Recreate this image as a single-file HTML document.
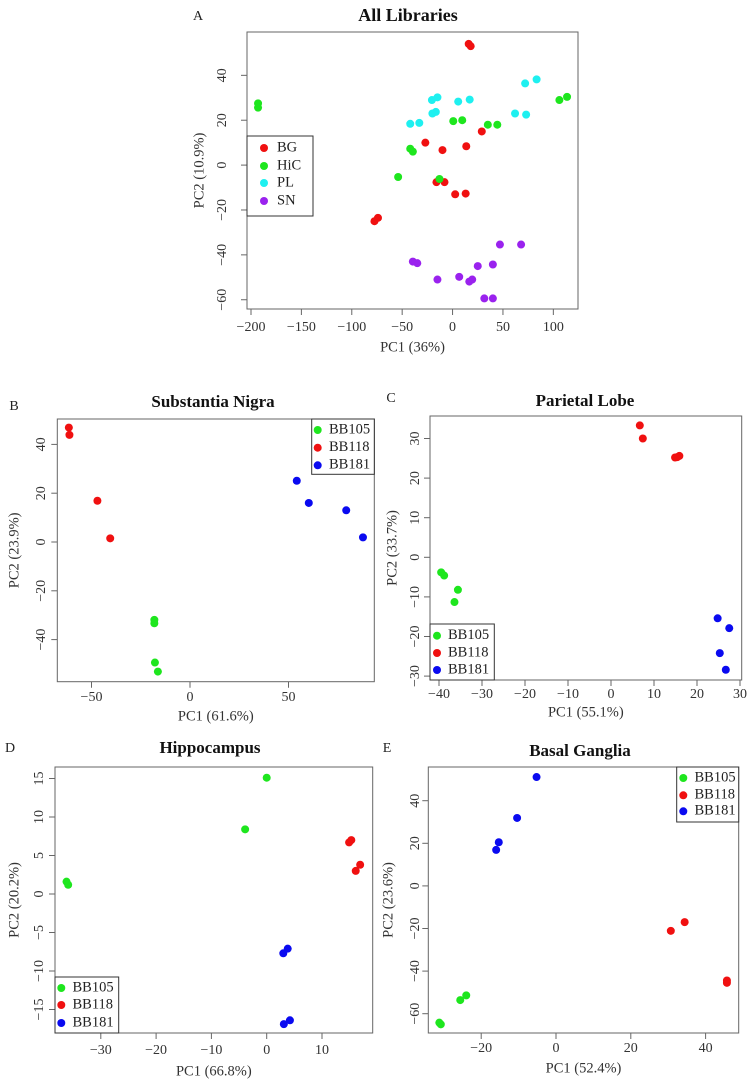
<!DOCTYPE html>
<html><head><meta charset="utf-8">
<style>
html,body{margin:0;padding:0;background:#fff;}
svg{display:block;font-family:"Liberation Serif",serif;}
</style></head>
<body>
<svg id="fig" width="752" height="1082" viewBox="0 0 752 1082" xmlns="http://www.w3.org/2000/svg"></svg>
<script>
// ---- Panel A data ----
const aGroups = ["BG","HiC","PL","SN"];
const aBG_x = [16,18,29,-27,-10,13.6,-16,-8,2.6,13,-77.5,-74];
const aBG_y = [54,53,15,10,6.7,8.4,-7.6,-7.6,-13,-12.7,-25,-23.5];
const aHiC_x = [-193,-193,106,113.6,0.7,9.6,35,44.4,-42,-39.4,-54,-13];
const aHiC_y = [27.5,25.6,29,30.4,19.6,20,18,18,7.3,6,-5.3,-6.2];
const aPL_x = [72,83.4,62,73,-20.5,-15,5.6,17,-20,-16.6,-42,-33];
const aPL_y = [36.4,38.2,23,22.5,29,30.2,28.3,29.2,23,23.7,18.4,18.8];
const aSN_x = [47,68,-39.4,-35,25,40,-15,6.6,16.6,19.5,31.5,40];
const aSN_y = [-35.4,-35.4,-43,-43.7,-45,-44.3,-51,-49.8,-51.9,-51,-59.4,-59.4];
const aXTicks = [-200,-150,-100,-50,0,50,100];
const aYTicks = [-60,-40,-20,0,20,40];
// ---- Sample groups for B-E ----
const sampleGroups = ["BB105","BB118","BB181"];
// ---- Panel B ----
const b105_x = [-18.1,-18.1,-17.8,-16.3], b105_y = [-31.9,-33.3,-49.4,-53.1];
const b118_x = [-61.5,-61.2,-47,-40.5], b118_y = [46.9,43.9,16.9,1.5];
const b181_x = [54.2,60.3,79.3,87.8], b181_y = [25.1,16,13,1.9];
const bXTicks = [-50,0,50];
const bYTicks = [-40,-20,0,20,40];
// ---- Panel C ----
const c105_x = [-39.5,-38.8,-35.6,-36.4], c105_y = [-3.8,-4.6,-8.2,-11.3];
const c118_x = [6.7,7.4,14.9,15.9,15.4], c118_y = [33.3,30,25.2,25.6,25.3];
const c181_x = [24.8,27.5,25.3,26.7], c181_y = [-15.4,-17.9,-24.2,-28.4];
const cXTicks = [-40,-30,-20,-10,0,10,20,30];
const cYTicks = [-30,-20,-10,0,10,20,30];
// ---- Panel D ----
const d105_x = [0,-3.9,-36.2,-35.9], d105_y = [15.1,8.4,1.6,1.2];
const d118_x = [14.9,15.3,16.9,16.1], d118_y = [6.7,7.0,3.8,3.0];
const d181_x = [3.0,3.8,3.1,4.2], d181_y = [-7.7,-7.1,-16.9,-16.4];
const dXTicks = [-30,-20,-10,0,10];
const dYTicks = [-15,-10,-5,0,5,10,15];
// ---- Panel E ----
const e105_x = [-24,-25.6,-31.2,-30.8], e105_y = [-51.4,-53.6,-64.2,-65];
const e118_x = [34.4,30.7,45.7,45.7], e118_y = [-17,-21.1,-44.4,-45.5];
const e181_x = [-5.2,-10.4,-15.3,-16], e181_y = [51.1,31.9,20.5,16.9];
const eXTicks = [-20,0,20,40];
const eYTicks = [-60,-40,-20,0,20,40];

const NS = "http://www.w3.org/2000/svg";
const svg = document.getElementById("fig");
function mk(tag, attrs, parent, text){
  const e = document.createElementNS(NS, tag);
  for (const k in attrs) e.setAttribute(k, attrs[k]);
  if (text !== undefined) e.textContent = text;
  (parent || svg).appendChild(e);
  return e;
}
function fmt(v){ return v < 0 ? "\u2212" + Math.abs(v) : String(v); }
const R_PT = 4;

function panel(p){
  const g = mk("g", {});
  
  
  const sx = v => p.x0 + v * p.kx;
  const sy = v => p.y0 - v * p.ky;
  const [L,T,R,B] = p.box;
  const letter = mk("text", {x:p.letter[0], y:p.letter[1], "font-size":14, "text-anchor":"middle", "dominant-baseline":"middle", fill:"#222"}, g, p.letterText);
  
  
  const title = mk("text", {x:p.title[0], y:p.title[1], "font-size":p.titleSize, "font-weight":"bold", "text-anchor":"middle", "dominant-baseline":"middle", fill:"#111"}, g, p.titleText);
  
  
  const box = mk("rect", {x:L, y:T, width:R-L, height:B-T, fill:"none", stroke:"#666", "stroke-width":1}, g);
  
  
  p.xt.forEach(v => {
    const px = sx(v);
    const t = mk("line", {x1:px, x2:px, y1:B, y2:B+6, stroke:"#666"}, g);
    
    
    const lb = mk("text", {x:px, y:p.xtY, "font-size":14, "text-anchor":"middle", "dominant-baseline":"middle", fill:"#333"}, g, fmt(v));
    
    
  });
  p.yt.forEach(v => {
    const py = sy(v);
    const t = mk("line", {x1:L-6, x2:L, y1:py, y2:py, stroke:"#666"}, g);
    
    
    const lb = mk("text", {x:p.ytX, y:py, "font-size":14, "text-anchor":"middle", "dominant-baseline":"middle", fill:"#333", transform:`rotate(-90 ${p.ytX} ${py})`}, g, fmt(v));
    
    
  });
  const xt = mk("text", {x:(L+R)/2, y:p.xTitleY, "font-size":14.5, "text-anchor":"middle", "dominant-baseline":"middle", fill:"#333"}, g, p.xTitle);
  
  
  const cy = (T+B)/2;
  const yt = mk("text", {x:p.yTitleX, y:cy, "font-size":14.5, "text-anchor":"middle", "dominant-baseline":"middle", fill:"#333", transform:`rotate(-90 ${p.yTitleX} ${cy})`}, g, p.yTitle);
  
  
  p.series.forEach(s => {
    s.xs.forEach((xv, i) => {
      const c = mk("circle", {cx:sx(xv), cy:sy(s.ys[i]), r:R_PT, fill:s.color}, g);
      
      
    });
  });
  const lg = p.legend;
  const lgG = mk("g", {}, g);
  
  
  mk("rect", {x:lg.box[0], y:lg.box[1], width:lg.box[2]-lg.box[0], height:lg.box[3]-lg.box[1], fill:"#fff", stroke:"#333", "stroke-width":1}, lgG);
  p.series.forEach((s, i) => {
    const eg = mk("g", {}, lgG);
    
    
    mk("circle", {cx:lg.dotX, cy:lg.ys[i], r:R_PT, fill:s.color}, eg);
    mk("text", {x:lg.textX, y:lg.ys[i], "font-size":14.5, "dominant-baseline":"middle", fill:"#222"}, eg, s.name);
  });
}
const GREEN="#1ee61e", RED="#f01010", BLUE="#0a0af0", CYAN="#1ef0f0", PURPLE="#9a22ee";

panel({id:"a", letterText:"A", letter:[198,17], titleText:"All Libraries", title:[408,17], titleSize:18,
  box:[247,32,578,309], x0:251+200*1.0078, kx:1.0078, y0:165.1, ky:2.244,
  xt:aXTicks, yt:aYTicks, xtY:328, ytX:223, xTitle:"PC1 (36%)", xTitleY:348, yTitle:"PC2 (10.9%)", yTitleX:200,
  series:[{name:aGroups[0],xs:aBG_x,ys:aBG_y,color:RED},{name:aGroups[1],xs:aHiC_x,ys:aHiC_y,color:GREEN},
          {name:aGroups[2],xs:aPL_x,ys:aPL_y,color:CYAN},{name:aGroups[3],xs:aSN_x,ys:aSN_y,color:PURPLE}],
  legend:{box:[247,136,313,216], ys:[148,166,183,201], dotX:264, textX:277}});

panel({id:"b", letterText:"B", letter:[14,407], titleText:"Substantia Nigra", title:[213,403], titleSize:17,
  box:[57.3,419,374.3,681.7], x0:190, kx:1.97, y0:542, ky:2.44,
  xt:bXTicks, yt:bYTicks, xtY:698, ytX:42, xTitle:"PC1 (61.6%)", xTitleY:717, yTitle:"PC2 (23.9%)", yTitleX:15,
  series:[{name:sampleGroups[0],xs:b105_x,ys:b105_y,color:GREEN},{name:sampleGroups[1],xs:b118_x,ys:b118_y,color:RED},{name:sampleGroups[2],xs:b181_x,ys:b181_y,color:BLUE}],
  legend:{box:[311.7,419,374.3,474.3], ys:[430,447.7,465.3], dotX:317.7, textX:329}});

panel({id:"c", letterText:"C", letter:[391,399], titleText:"Parietal Lobe", title:[585,402], titleSize:17,
  box:[430,416,741.7,680], x0:611, kx:4.3, y0:557.3, ky:3.96,
  xt:cXTicks, yt:cYTicks, xtY:695, ytX:416, xTitle:"PC1 (55.1%)", xTitleY:713, yTitle:"PC2 (33.7%)", yTitleX:393,
  series:[{name:sampleGroups[0],xs:c105_x,ys:c105_y,color:GREEN},{name:sampleGroups[1],xs:c118_x,ys:c118_y,color:RED},{name:sampleGroups[2],xs:c181_x,ys:c181_y,color:BLUE}],
  legend:{box:[430,624,494.3,680], ys:[635.7,653,670], dotX:437, textX:448}});

panel({id:"d", letterText:"D", letter:[10,749], titleText:"Hippocampus", title:[210,749], titleSize:17,
  box:[55,767,372.7,1033], x0:266.7, kx:5.53, y0:894, ky:7.7,
  xt:dXTicks, yt:dYTicks, xtY:1051, ytX:40, xTitle:"PC1 (66.8%)", xTitleY:1072, yTitle:"PC2 (20.2%)", yTitleX:15,
  series:[{name:sampleGroups[0],xs:d105_x,ys:d105_y,color:GREEN},{name:sampleGroups[1],xs:d118_x,ys:d118_y,color:RED},{name:sampleGroups[2],xs:d181_x,ys:d181_y,color:BLUE}],
  legend:{box:[55,977,118.7,1033], ys:[988,1005,1023], dotX:61.3, textX:72.5}});

panel({id:"e", letterText:"E", letter:[387,749], titleText:"Basal Ganglia", title:[580,752], titleSize:17,
  box:[428.3,767,738.7,1033], x0:556, kx:3.74, y0:885.9, ky:2.13,
  xt:eXTicks, yt:eYTicks, xtY:1049, ytX:416, xTitle:"PC1 (52.4%)", xTitleY:1069, yTitle:"PC2 (23.6%)", yTitleX:389,
  series:[{name:sampleGroups[0],xs:e105_x,ys:e105_y,color:GREEN},{name:sampleGroups[1],xs:e118_x,ys:e118_y,color:RED},{name:sampleGroups[2],xs:e181_x,ys:e181_y,color:BLUE}],
  legend:{box:[676.7,767,738.7,822], ys:[778,795.3,811.3], dotX:683.3, textX:694.5}});
</script>
</body></html>
